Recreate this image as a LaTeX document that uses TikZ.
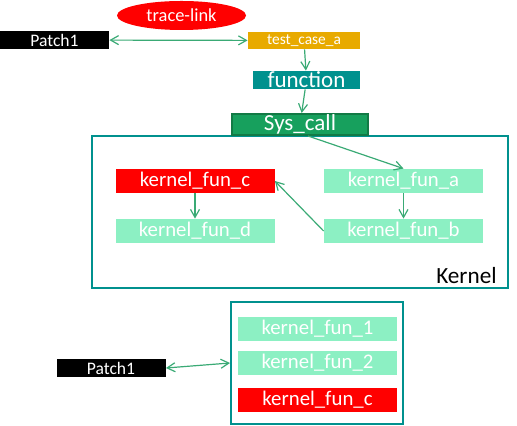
\documentclass[tikz,border=0pt]{standalone}
\usepackage{fontspec}
\setmainfont{Carlito}
\usetikzlibrary{arrows.meta,shapes.geometric}
\definecolor{tealbox}{HTML}{00918E}
\definecolor{mintbox}{HTML}{8CF0C3}
\definecolor{goldbox}{HTML}{E8AA00}
\definecolor{sysgreen}{HTML}{17A05D}
\definecolor{sysedge}{HTML}{127A45}
\definecolor{linkgreen}{HTML}{3AAA75}

\begin{document}
\begin{tikzpicture}[x=0.5pt, y=-0.5pt, >={Straight Barb[length=4pt,width=4.5pt]},
		fun/.style={rectangle, inner sep=0pt, text=white, minimum width=79.5pt, minimum height=12pt, font=\fontsize{10.4}{12}\selectfont},
		patchbox/.style={rectangle, fill=black, inner sep=0pt, text=white, minimum width=54.5pt, minimum height=9pt, font=\fontsize{8.8}{10}\selectfont},
		frame/.style={draw=tealbox, line width=1pt, rectangle, inner sep=0pt},
		link/.style={draw=linkgreen, line width=0.6pt, ->},
		twoway/.style={draw=linkgreen, line width=0.6pt, <->}]
				\useasboundingbox (0,0) rectangle (517,426);
				\node[ellipse, fill=red, text=white, minimum width=64.5pt, minimum height=14.5pt, inner sep=0pt, font=\fontsize{9.2}{10}\selectfont] (trace)at(181.5, 15.5) {trace-link};
				\node[patchbox] (patchA)at(54.5, 40) {Patch1};
				\node[rectangle, fill=goldbox, text=white, inner sep=0pt, minimum width=56pt, minimum height=8.5pt, font=\fontsize{7.7}{9}\selectfont] (test)at(304, 40.5) {test\_case\_a};
				\node[rectangle, fill=tealbox, text=white, inner sep=0pt, minimum width=53.5pt, minimum height=9pt, font=\fontsize{11.5}{12}\selectfont] (func)at(306.5, 80) {function};
				\node[frame, minimum width=208pt, minimum height=76pt] (kernel)at(300, 212) {};
				\node[rectangle, draw=sysedge, line width=1pt, fill=sysgreen, text=white, inner sep=0pt, minimum width=68pt, minimum height=10.5pt, font=\fontsize{11.5}{12}\selectfont] (sys)at(300, 124.5) {Sys\_call};
				\node[anchor=south east, inner sep=0pt, font=\fontsize{11.6}{12}\selectfont] (klabel)at(497, 284) {Kernel};
				\node[fun, fill=red] (kfc)at(195, 181) {kernel\_fun\_c};
				\node[fun, fill=mintbox] (kfa)at(403.5, 181) {kernel\_fun\_a};
				\node[fun, fill=mintbox] (kfd)at(195, 231) {kernel\_fun\_d};
				\node[fun, fill=mintbox] (kfb)at(403.5, 231) {kernel\_fun\_b};
				% lower part
				\node[frame, minimum width=86pt, minimum height=61pt] (patchset)at(317, 363) {};
				\node[fun, fill=mintbox] (kf1)at(317.5, 329) {kernel\_fun\_1};
				\node[fun, fill=mintbox] (kf2)at(317.5, 363) {kernel\_fun\_2};
				\node[fun, fill=red] (kfc2)at(317.5, 400) {kernel\_fun\_c};
				\node[patchbox] (patchB)at(111, 368) {Patch1};
				% links
				\draw[twoway] (patchA) -- (test);
				\draw[link] (test) -- (func);
				\draw[link] (func) -- (sys);
				\draw[link] ([xshift=4pt]sys.south) -- (kfa.north);
				\draw[link] (kfa) -- (kfb);
				\draw[link] (kfc) -- (kfd);
				\draw[link] (kfb.west) -- (kfc.east);
				\draw[twoway] (patchB.east) -- (patchset.west);
		\end{tikzpicture}
\end{document}
